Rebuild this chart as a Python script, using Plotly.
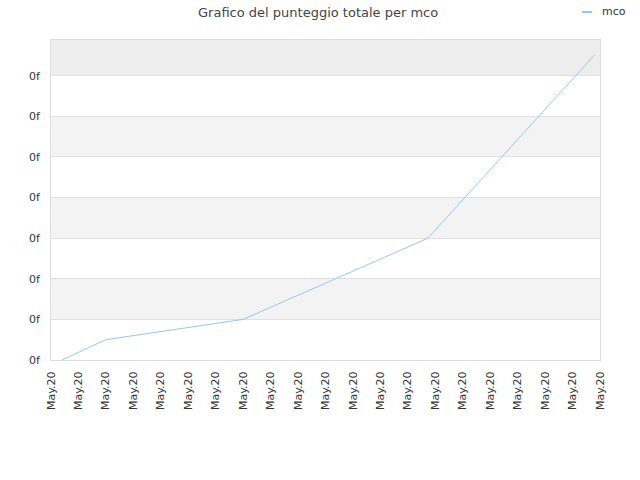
import plotly.graph_objects as go

# Data (x in tick-index units, y in gridline units)
x_vals = [0.4, 2.0, 7.0, 13.73, 19.8]
y_vals = [0.0, 0.5, 1.0, 3.0, 7.51]
x_tick_vals = list(range(0, 21))
x_tick_text = ["May.20"] * 21
y_tick_vals = list(range(0, 8))
y_tick_text = ["0f"] * 8
series_name = "mco"
title_text = "Grafico del punteggio totale per mco"

Y_TOP = 7.88
X_MAX = 20
LINE_COLOR = "#99c5f3"

fig = go.Figure()
fig.add_trace(go.Scatter(
    x=x_vals, y=y_vals, mode="lines", name=series_name,
    line=dict(color=LINE_COLOR, width=1), showlegend=False,
))

shapes = []
for lo in [1, 3, 5]:
    shapes.append(dict(type="rect", xref="paper", yref="y", x0=0, x1=1, y0=lo, y1=lo + 1,
                       fillcolor="#f3f3f3", line=dict(width=0), layer="below"))
shapes.append(dict(type="rect", xref="paper", yref="y", x0=0, x1=1, y0=7, y1=Y_TOP,
                   fillcolor="#ededed", line=dict(width=0), layer="below"))

# legend drawn manually (short line sample + label); positions in screen px
W, H = 549, 320
def px_x(p):
    return (p - 51) / W
def px_y(p):
    return (360 - p) / H

shapes.append(dict(type="line", xref="paper", yref="paper",
                   x0=px_x(582), x1=px_x(592), y0=px_y(12), y1=px_y(12),
                   line=dict(color=LINE_COLOR, width=2)))

annotations = [
    dict(text=series_name, xref="paper", yref="paper", x=px_x(600), y=px_y(11),
         xanchor="left", yanchor="middle", showarrow=False,
         font=dict(size=11, color="#333333")),
    dict(text=title_text, xref="paper", yref="paper", x=px_x(318), y=px_y(12),
         xanchor="center", yanchor="middle", showarrow=False,
         font=dict(size=13, color="#444444")),
]

fig.update_layout(
    width=640, height=480,
    margin=dict(l=51, r=40, t=40, b=120, autoexpand=False),
    paper_bgcolor="white", plot_bgcolor="white",
    font=dict(family="DejaVu Sans", size=11, color="#333333"),
    shapes=shapes,
    annotations=annotations,
    showlegend=False,
    xaxis=dict(range=[0, X_MAX], tickvals=x_tick_vals, ticktext=x_tick_text,
               tickangle=-90, showgrid=False, zeroline=False, automargin=False,
               showline=True, linecolor="#dcdcdc", mirror=True, ticks="",
               ticklabelstandoff=6,
               tickfont=dict(size=11, color="#333333")),
    yaxis=dict(range=[0, Y_TOP], tickvals=y_tick_vals, ticktext=y_tick_text,
               showgrid=True, gridcolor="#e0e0e0", zeroline=False, automargin=False,
               showline=True, linecolor="#dcdcdc", mirror=True, ticks="",
               ticklabelstandoff=8,
               tickfont=dict(size=11, color="#333333")),
)

fig.write_html("out.html", config={"displayModeBar": False},
               post_script="document.body.style.margin='0';")
